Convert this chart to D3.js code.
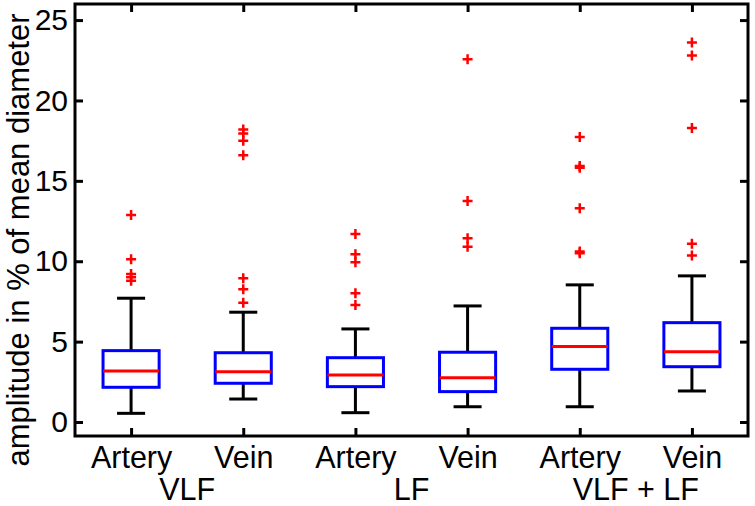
<!DOCTYPE html>
<html>
<head>
<meta charset="utf-8">
<script src="https://cdn.jsdelivr.net/npm/d3@7"></script>
<style>
  body { margin: 0; background: #fff; }
  text { font-family: "Liberation Sans", Arial, sans-serif; fill: #000; }
</style>
</head>
<body>
<div id="chart"></div>
<script>
// Chart data
const vessels = ["Artery", "Vein", "Artery", "Vein", "Artery", "Vein"];
const bands = ["VLF", "LF", "VLF + LF"];
const whiskerLow = [0.54, 1.43, 0.58, 0.95, 0.95, 1.93];
const q1 = [2.16, 2.41, 2.2, 1.89, 3.28, 3.44];
const medians = [3.17, 3.13, 2.92, 2.76, 4.69, 4.37];
const q3 = [4.44, 4.31, 4.0, 4.34, 5.83, 6.18];
const whiskerHigh = [7.7, 6.83, 5.79, 7.22, 8.53, 9.09];
const outliers = [
  [12.88, 10.12, 9.21, 9.0, 8.79],
  [18.2, 17.95, 17.5, 16.6, 8.94, 8.26, 7.42],
  [11.7, 10.43, 9.94, 8.01, 7.28],
  [22.57, 13.75, 11.43, 10.9],
  [17.72, 15.92, 15.82, 13.3, 10.6, 10.5],
  [23.6, 22.8, 18.28, 11.08, 10.35]
];
const yTicks = [0, 5, 10, 15, 20, 25];

const width = 755;
const height = 506;
const margin = { top: 4, right: 7, bottom: 70, left: 75 };

const svg = d3.select("#chart")
  .append("svg")
  .attr("width", width)
  .attr("height", height);

// Scales: positions 1..6, like matlab's boxplot
const xScale = d3.scaleLinear()
  .domain([0.5, 6.5])
  .range([margin.left, width - margin.right]);

const yScale = d3.scaleLinear()
  .domain([-0.87, 26])
  .range([height - margin.bottom, margin.top]);

const unit = xScale(2) - xScale(1);
const positions = vessels.map((d, i) => i + 1);

// Axes with inward ticks (left / bottom) and mirrored ticks (right / top)
const axisStyle = size => g => {
  g.select(".domain").remove();
  g.selectAll(".tick line").attr("stroke", "#000").attr("stroke-width", 3);
  g.selectAll(".tick text").style("font-size", size);
};

svg.append("g")
  .attr("transform", `translate(${margin.left},0)`)
  .call(d3.axisLeft(yScale).tickValues(yTicks).tickSizeInner(-8).tickSizeOuter(0).tickPadding(7))
  .call(axisStyle("30px"));

svg.append("g")
  .attr("transform", `translate(${width - margin.right},0)`)
  .call(d3.axisRight(yScale).tickValues(yTicks).tickSizeInner(-8).tickSizeOuter(0).tickFormat(""))
  .call(axisStyle("30px"));

svg.append("g")
  .attr("transform", `translate(0,${height - margin.bottom})`)
  .call(d3.axisBottom(xScale).tickValues(positions).tickSizeInner(-8).tickSizeOuter(0)
    .tickPadding(10).tickFormat((d, i) => vessels[i]))
  .call(axisStyle("30.5px"));

svg.append("g")
  .attr("transform", `translate(0,${margin.top})`)
  .call(d3.axisTop(xScale).tickValues(positions).tickSizeInner(-8).tickSizeOuter(0).tickFormat(""))
  .call(axisStyle("30px"));

// Second row of x labels (frequency bands), centred under each pair
svg.append("g")
  .selectAll("text")
  .data(bands)
  .enter()
  .append("text")
  .attr("x", (d, i) => xScale(2 * i + 1.5))
  .attr("y", 500)
  .attr("text-anchor", "middle")
  .style("font-size", "30.5px")
  .text(d => d);

// Y label
svg.append("text")
  .attr("transform", "rotate(-90)")
  .attr("x", -240)
  .attr("y", 29)
  .attr("text-anchor", "middle")
  .style("font-size", "31px")
  .text("amplitude in % of mean diameter");

// Boxes
const boxes = svg.append("g")
  .selectAll("g")
  .data(positions)
  .enter()
  .append("g");

// whiskers
boxes.append("line")
  .attr("x1", d => xScale(d)).attr("x2", d => xScale(d))
  .attr("y1", (d, i) => yScale(whiskerHigh[i])).attr("y2", (d, i) => yScale(q3[i]))
  .attr("stroke", "#000").attr("stroke-width", 3);
boxes.append("line")
  .attr("x1", d => xScale(d)).attr("x2", d => xScale(d))
  .attr("y1", (d, i) => yScale(whiskerLow[i])).attr("y2", (d, i) => yScale(q1[i]))
  .attr("stroke", "#000").attr("stroke-width", 3);

// whisker caps
[whiskerHigh, whiskerLow].forEach(arr => {
  boxes.append("line")
    .attr("x1", d => xScale(d - 0.125)).attr("x2", d => xScale(d + 0.125))
    .attr("y1", (d, i) => yScale(arr[i])).attr("y2", (d, i) => yScale(arr[i]))
    .attr("stroke", "#000").attr("stroke-width", 3);
});

// box
boxes.append("rect")
  .attr("x", d => xScale(d - 0.25))
  .attr("width", unit * 0.5)
  .attr("y", (d, i) => yScale(q3[i]))
  .attr("height", (d, i) => yScale(q1[i]) - yScale(q3[i]))
  .attr("fill", "none")
  .attr("stroke", "#0000ff")
  .attr("stroke-width", 3);

// median
boxes.append("line")
  .attr("x1", d => xScale(d - 0.25)).attr("x2", d => xScale(d + 0.25))
  .attr("y1", (d, i) => yScale(medians[i])).attr("y2", (d, i) => yScale(medians[i]))
  .attr("stroke", "#ff0000").attr("stroke-width", 3);

// outliers as "+"
boxes.each(function (d, i) {
  d3.select(this).selectAll("path.out")
    .data(outliers[i])
    .enter()
    .append("path")
    .attr("class", "out")
    .attr("d", v => {
      const cx = xScale(d), cy = yScale(v);
      return `M${cx - 5},${cy}H${cx + 5}M${cx},${cy - 5}V${cy + 5}`;
    })
    .attr("stroke", "#ff0000")
    .attr("stroke-width", 2.5)
    .attr("fill", "none");
});

// Frame
svg.append("rect")
  .attr("x", margin.left)
  .attr("y", margin.top)
  .attr("width", width - margin.left - margin.right)
  .attr("height", height - margin.top - margin.bottom)
  .attr("fill", "none")
  .attr("stroke", "#000")
  .attr("stroke-width", 3);
</script>
</body>
</html>
